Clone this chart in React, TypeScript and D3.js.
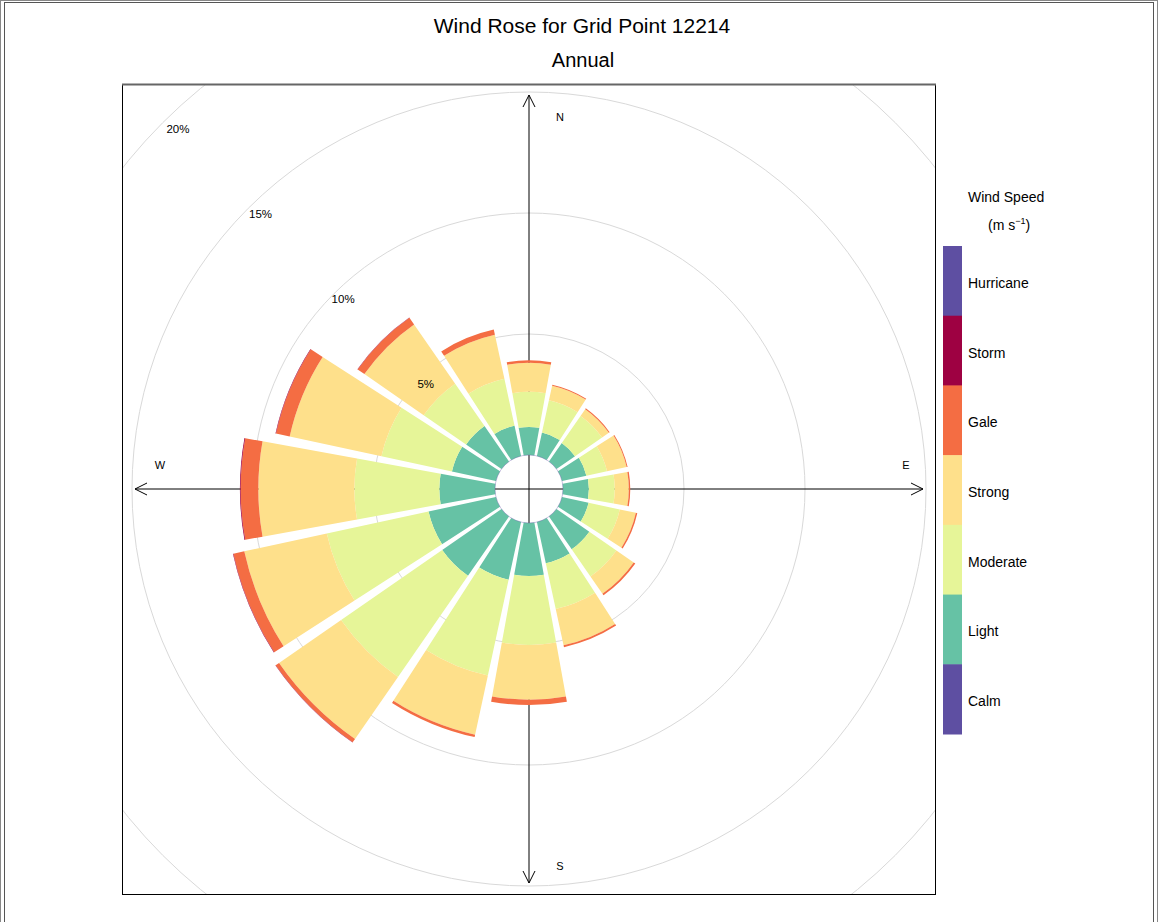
import React from 'react';
import * as d3 from 'd3';

// ---------- data ----------
const directions = ['N', 'NNE', 'NE', 'ENE', 'E', 'ESE', 'SE', 'SSE', 'S', 'SSW', 'SW', 'WSW', 'W', 'WNW', 'NW', 'NNW'];
const speedClasses = ['Calm', 'Light', 'Moderate', 'Strong', 'Gale', 'Storm', 'Hurricane'];
const classColors = ['#5E4FA2', '#66C2A5', '#E6F598', '#FEE08B', '#F46D43', '#9E0142', '#5E4FA2'];
// frequency (%) per direction for each speed class
const light = [1.16, 0.99, 0.93, 1.03, 1.07, 1.12, 1.65, 1.74, 2.19, 2.44, 2.98, 2.85, 2.30, 1.86, 1.78, 1.28];
const moderate = [1.45, 1.36, 1.36, 0.87, 1.07, 1.32, 1.36, 1.94, 2.85, 4.05, 5.08, 4.30, 3.51, 2.98, 2.13, 1.98];
const strong = [1.20, 0.62, 0.34, 0.83, 0.58, 0.68, 0.87, 1.53, 2.26, 2.50, 3.12, 3.49, 3.97, 3.88, 2.98, 1.86];
const gale = [0.10, 0.04, 0.04, 0.04, 0.06, 0.06, 0.08, 0.08, 0.22, 0.10, 0.17, 0.46, 0.73, 0.58, 0.34, 0.22];
const storm = [0, 0, 0, 0, 0, 0, 0, 0, 0, 0, 0.01, 0.02, 0.03, 0.02, 0.01, 0];
const hurricane = [0, 0, 0, 0, 0, 0, 0, 0, 0, 0, 0, 0, 0, 0, 0, 0];
const gridTicks = [5, 10, 15, 20];
const compassLabels = ['N', 'E', 'S', 'W'];
const titleLines = ['Wind Rose for Grid Point 12214', 'Annual'];

const W = 1159;
const H = 922;
const cx = 529;
const cy = 489;
const box = { x: 122, y: 84, w: 813, h: 810 };
const font = 'Liberation Sans, Arial, Helvetica, sans-serif';

const r = d3.scaleLinear().domain([0, 20]).range([34, 518]);
const toRad = (deg: number) => (deg * Math.PI) / 180;

export default function App() {
  const seriesList = [light, moderate, strong, gale, storm, hurricane];
  const seriesColors = classColors.slice(1);
  const halfWidth = 10.3;
  const arcGen = d3.arc<any>().padAngle(0.015).padRadius(100);

  const wedges: JSX.Element[] = [];
  directions.forEach((d, i) => {
    const theta = i * 22.5;
    let cum = 0;
    seriesList.forEach((s, k) => {
      const v = s[i];
      if (v <= 0) return;
      const path = arcGen({
        innerRadius: r(cum),
        outerRadius: r(cum + v),
        startAngle: toRad(theta - halfWidth),
        endAngle: toRad(theta + halfWidth),
      });
      cum += v;
      wedges.push(<path key={d + k} d={path || ''} fill={seriesColors[k]} />);
    });
  });

  const axisLen = 394;
  const axes = [0, 90, 180, 270].map((deg) => {
    const a = toRad(deg);
    const ux = Math.sin(a);
    const uy = -Math.cos(a);
    const tx = cx + ux * axisLen;
    const ty = cy + uy * axisLen;
    const px = -uy;
    const py = ux;
    const back = 12;
    const wing = 6;
    const p1 = [tx - ux * back + px * wing, ty - uy * back + py * wing];
    const p2 = [tx - ux * back - px * wing, ty - uy * back - py * wing];
    return (
      <g key={deg}>
        <line x1={cx} y1={cy} x2={tx} y2={ty} stroke="#000" strokeWidth={1} />
        <polyline points={`${p1[0]},${p1[1]} ${tx},${ty} ${p2[0]},${p2[1]}`} fill="none" stroke="#000" strokeWidth={1} />
      </g>
    );
  });

  const compassPos: Record<string, [number, number]> = {
    N: [560, 117],
    E: [906, 465],
    S: [560, 866],
    W: [160, 465],
  };

  const legendOrder = [...speedClasses].reverse();
  const legendY = d3.scaleBand<string>().domain(legendOrder).range([246, 734]);
  const legendX = 943;

  return (
    <svg width={W} height={H} style={{ position: 'absolute', left: 0, top: 0 }} fontFamily={font}>
      <defs>
        <clipPath id="plotClip">
          <rect x={box.x} y={box.y} width={box.w} height={box.h} />
        </clipPath>
      </defs>
      <rect x={0} y={0} width={W} height={H} fill="#fff" />
      {/* figure frame */}
      <rect x={0.5} y={0.5} width={W - 2} height={H + 10} fill="none" stroke="#888" strokeWidth={1} />
      <rect x={4.5} y={2.5} width={W - 10} height={H + 10} fill="none" stroke="#555" strokeWidth={1} />

      {/* titles */}
      <text x={582} y={33} textAnchor="middle" fontSize={21} fill="#000">{titleLines[0]}</text>
      <text x={583} y={67} textAnchor="middle" fontSize={20} fill="#000">{titleLines[1]}</text>

      <g clipPath="url(#plotClip)">
        {gridTicks.map((t) => (
          <circle key={t} cx={cx} cy={cy} r={r(t)} fill="none" stroke="#d9d9d9" strokeWidth={1} />
        ))}
        {axes}
        <g transform={`translate(${cx},${cy})`}>{wedges}</g>
        <circle cx={cx} cy={cy} r={r(0)} fill="none" stroke={classColors[0]} strokeWidth={0.6} strokeOpacity={0.6} />
        {gridTicks.map((t) => {
          const a = toRad(315.8);
          const d = 0.979 * r(t) - 3.6;
          return (
            <text key={t} x={cx + Math.sin(a) * d} y={cy - Math.cos(a) * d + 1} textAnchor="middle" dominantBaseline="central" fontSize={11.5} fill="#000">
              {t}%
            </text>
          );
        })}
        {compassLabels.map((l) => (
          <text key={l} x={compassPos[l][0]} y={compassPos[l][1]} textAnchor="middle" dominantBaseline="central" fontSize={11} fill="#000">
            {l}
          </text>
        ))}
      </g>
      <rect x={box.x + 0.5} y={box.y + 0.5} width={box.w} height={box.h} fill="none" stroke="#000" strokeWidth={1} />
      <line x1={box.x} y1={box.y + 0.5} x2={box.x + box.w + 1} y2={box.y + 0.5} stroke="#666" strokeWidth={2} />

      {/* legend */}
      <text x={968} y={202} fontSize={14} fill="#000">Wind Speed</text>
      <text x={988} y={230} fontSize={14} fill="#000">
        (m s<tspan dy={-6} fontSize={9}>−1</tspan><tspan dy={6}>)</tspan>
      </text>
      {legendOrder.map((c) => {
        const idx = speedClasses.indexOf(c);
        const y0 = legendY(c) || 0;
        return (
          <g key={c}>
            <rect x={legendX} y={y0} width={19} height={legendY.bandwidth() + 0.5} fill={classColors[idx]} />
            <text x={968} y={y0 + legendY.bandwidth() / 2 + 2} dominantBaseline="central" fontSize={14} fill="#000">
              {c}
            </text>
          </g>
        );
      })}
    </svg>
  );
}
